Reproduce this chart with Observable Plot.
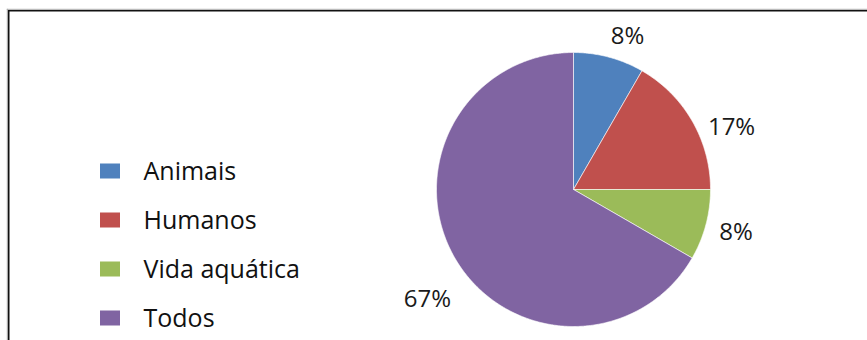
<!DOCTYPE html>
<html>
<head>
<meta charset="utf-8">
<script src="https://cdn.jsdelivr.net/npm/d3@7"></script>
<script src="https://cdn.jsdelivr.net/npm/@observablehq/plot@0.6"></script>
<style>
  html, body { margin: 0; padding: 0; background: #fff; }
  #chart svg { display: block; }
</style>
</head>
<body>
<div id="chart"></div>
<script>
// ---- data ----
const categories = ["Animais", "Humanos", "Vida aquática", "Todos"];
const shares = [8.33, 16.67, 8.33, 66.67];
const pctLabels = ["8%", "17%", "8%", "67%"];
const colors = ["#4F81BD", "#C0504D", "#9BBB59", "#8064A2"];

// ---- layout (pixel space) ----
const W = 867, H = 340;
const cx = 573, cy = 189, R = 137;
// per-label placement tweak (angle offset in degrees, distance from centre)
const labelTweak = [[4.5, 162], [8.4, 170], [-0.3, 168], [-7, 183]];
const legendX = 100, legendY0 = 171, legendStep = 49;

const pie = d3.pie().sort(null).startAngle(0).endAngle(2 * Math.PI)(shares);

// slice outlines (centre + arc sampled along the pie angles)
const slicePts = [];
pie.forEach((s, i) => {
  const cat = categories[i];
  slicePts.push({cat, x: cx, y: cy});
  const n = Math.max(2, Math.ceil((s.endAngle - s.startAngle) / (Math.PI / 360)));
  for (let k = 0; k <= n; k++) {
    const a = s.startAngle + (s.endAngle - s.startAngle) * k / n;
    slicePts.push({cat, x: cx + R * Math.sin(a), y: cy - R * Math.cos(a)});
  }
  slicePts.push({cat, x: cx, y: cy});
});

const labels = pie.map((s, i) => {
  const mid = (s.startAngle + s.endAngle) / 2 + labelTweak[i][0] * Math.PI / 180;
  const d = labelTweak[i][1];
  return {text: pctLabels[i], x: cx + d * Math.sin(mid), y: cy - d * Math.cos(mid)};
});

const legend = categories.map((c, i) => ({cat: c, i}));

const chart = Plot.plot({
  width: W,
  height: H,
  margin: 0,
  style: {fontFamily: "'Open Sans', sans-serif", background: "#fff"},
  x: {domain: [0, W], range: [0, W], axis: null},
  y: {domain: [0, H], range: [0, H], axis: null},
  color: {domain: categories, range: colors},
  marks: [
    // frame border (top + left, with light shadow)
    Plot.ruleY([8.8], {x1: () => 6.8, x2: () => W, stroke: "#aaa", strokeWidth: 1}),
    Plot.ruleX([6.8], {y1: () => 8.8, y2: () => H, stroke: "#aaa", strokeWidth: 1}),
    Plot.ruleY([10.2], {x1: () => 8, x2: () => W, stroke: "#111", strokeWidth: 1.6}),
    Plot.ruleX([8.2], {y1: () => 10, y2: () => H, stroke: "#111", strokeWidth: 1.6}),
    // pie slices
    Plot.line(slicePts, {x: "x", y: "y", z: "cat", fill: "cat", stroke: "#fff", strokeWidth: 0.6, curve: "linear"}),
    // percentage labels
    Plot.text(labels, {x: "x", y: "y", text: "text", fontSize: 24, fill: "#1a1a1a", textAnchor: "middle", lineAnchor: "middle"}),
    // legend
    Plot.rect(legend, {
      x1: () => legendX, x2: () => legendX + 20,
      y1: d => legendY0 + d.i * legendStep - 7.5, y2: d => legendY0 + d.i * legendStep + 7.5,
      fill: "cat"
    }),
    Plot.text(legend, {
      x: () => legendX + 43, y: d => legendY0 + d.i * legendStep,
      text: "cat", fontSize: 25, fill: "#111", textAnchor: "start", lineAnchor: "middle"
    })
  ]
});
document.getElementById("chart").appendChild(chart);
</script>
</body>
</html>
